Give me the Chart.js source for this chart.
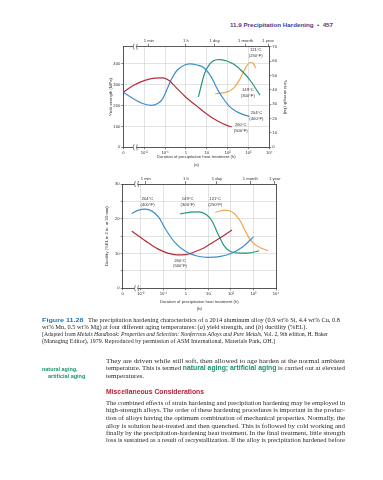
<!DOCTYPE html>
<html><head><meta charset="utf-8">
<script src="https://cdn.jsdelivr.net/npm/chart.js@4.4.1/dist/chart.umd.min.js"></script>
<style>
html,body{margin:0;padding:0;background:#fff;width:383px;height:480px;overflow:hidden;position:relative}
.ln{position:absolute;white-space:nowrap;transform-origin:0 50%;line-height:8px;height:8px}
.serif{font-family:"Liberation Serif","Times New Roman",serif;color:#231f20}
.sans{font-family:"Liberation Sans",Arial,sans-serif}
.grn{color:#17946c;font-family:"Liberation Sans",Arial,sans-serif;font-weight:bold}
canvas{position:absolute;left:0}
</style></head><body>

<div class="ln sans" data-w="103" style="left:230px;top:21px;font-size:6px;font-weight:bold;color:#4b3a8c">11.9 Precipitation Hardening&nbsp;&nbsp;•&nbsp;&nbsp;457</div>

<canvas id="ca" width="383" height="142" style="top:30px"></canvas>
<canvas id="cb" width="383" height="145" style="top:172px"></canvas>

<div class="ln sans" data-w="41.6" style="left:41.7px;top:316px;font-size:6.2px;font-weight:bold;color:#1b75bb">Figure 11.28</div>
<div class="ln serif" data-w="252" style="left:88px;top:316px;font-size:6px">The precipitation hardening characteristics of a 2014 aluminum alloy (0.9 wt% Si, 4.4 wt% Cu, 0.8</div>
<div class="ln serif" data-w="265" style="left:41.7px;top:323.3px;font-size:6px">wt% Mn, 0.5 wt% Mg) at four different aging temperatures: (<i>a</i>) yield strength, and (<i>b</i>) ductility (%EL).</div>
<div class="ln serif" data-w="286" style="left:41.7px;top:330px;font-size:5.6px">[Adapted from <i>Metals Handbook: Properties and Selection: Nonferrous Alloys and Pure Metals</i>, Vol. 2, 9th edition, H. Baker</div>
<div class="ln serif" data-w="233" style="left:41.7px;top:337px;font-size:5.6px">(Managing Editor), 1979. Reproduced by permission of ASM International, Materials Park, OH.]</div>

<div class="ln grn" data-w="35.6" style="left:41.7px;top:364.7px;font-size:5.6px">natural aging,</div>
<div class="ln grn" data-w="37.3" style="left:47.7px;top:372px;font-size:5.6px">artificial aging</div>

<div class="ln serif" data-w="239" style="left:106px;top:356.7px;font-size:6.8px">They are driven while still soft, then allowed to age harden at the normal ambient</div>
<div class="ln serif" data-w="239" style="left:106px;top:364.3px;font-size:6.8px">temperature. This is termed <span class="grn">natural aging; artificial aging</span> is carried out at elevated</div>
<div class="ln serif" data-w="38" style="left:106px;top:372px;font-size:6.8px">temperatures.</div>

<div class="ln sans" data-w="98" style="left:106px;top:388.3px;font-size:6.8px;font-weight:bold;color:#b5223a">Miscellaneous Considerations</div>

<div class="ln serif" data-w="239" style="left:106px;top:398.7px;font-size:6.8px">The combined effects of strain hardening and precipitation hardening may be employed in</div>
<div class="ln serif" data-w="239" style="left:106px;top:406.3px;font-size:6.8px">high-strength alloys. The order of these hardening procedures is important in the produc-</div>
<div class="ln serif" data-w="239" style="left:106px;top:414px;font-size:6.8px">tion of alloys having the optimum combination of mechanical properties. Normally, the</div>
<div class="ln serif" data-w="239" style="left:106px;top:421.7px;font-size:6.8px">alloy is solution heat-treated and then quenched. This is followed by cold working and</div>
<div class="ln serif" data-w="239" style="left:106px;top:429px;font-size:6.8px">finally by the precipitation-hardening heat treatment. In the final treatment, little strength</div>
<div class="ln serif" data-w="239" style="left:106px;top:436.3px;font-size:6.8px">loss is sustained as a result of recrystallization. If the alloy is precipitation hardened before</div>

<script>
// ---------- tick labels ----------
const decadeLabels = ['0', '10\u207B\u00B2', '10\u207B\u00B9', '1', '10', '10\u00B2', '10\u00B3', '10\u2074'];
const decadeHoursA = [0.001, 0.01, 0.1, 1, 10, 100, 1000, 10000];
const decadeHoursB = [0.00158, 0.01, 0.1, 1, 10, 100, 1000, 10000];
const timeTickHours = [1/60, 1, 24, 730, 8760];
const timeTickLabels = ['1 min', '1 h', '1 day', '1 month', '1 year'];
const mpaTicks = [0, 100, 200, 300, 400];
const ksiTicks = [0, 10, 20, 30, 40, 50, 60, 70];
const elTicks = [0, 5, 10, 15, 20, 25, 30];
const elLabelled = [0, 10, 20, 30];

// ---------- (a) yield strength, MPa ----------
const aRedHours   = [0.001, 0.00316, 0.01, 0.0316, 0.0794, 0.158, 0.316, 1, 3.16, 10, 31.6, 100, 158];
const aRedMPa     = [264, 298, 320, 332, 333, 320, 290, 240, 200, 160, 127, 104, 98];
const aBlueHours  = [0.001, 0.00316, 0.01, 0.0224, 0.0447, 0.0794, 0.126, 0.2, 0.398, 1, 1.58, 3.16, 7.08, 15.8, 35.5, 63.1, 126, 251, 562, 1122];
const aBlueMPa    = [264, 232, 208, 201, 210, 235, 280, 325, 372, 397, 400, 396, 383, 340, 272, 233, 195, 173, 157, 148];
const aGreenHours = [3.98, 7.94, 14.1, 28.2, 44.7, 100, 200, 562, 1413, 3548];
const aGreenMPa   = [242, 355, 400, 420, 421, 413, 398, 360, 312, 250];
const aOrangeHours= [25.1, 50.1, 100, 200, 355, 562, 891, 1259, 1778, 2239];
const aOrangeMPa  = [257, 260, 266, 285, 320, 360, 395, 408, 400, 380];

// ---------- (b) ductility, %EL ----------
const bRedHours   = [0.00398, 0.01, 0.0251, 0.0631, 0.158, 0.398, 1, 2.51, 6.31, 15.8, 39.8, 112];
const bRedEL      = [16.5, 14.6, 12.8, 11.2, 10.1, 9.6, 9.7, 10.5, 11.6, 13.2, 14.8, 16.8];
const bBlueHours  = [0.00398, 0.00794, 0.0158, 0.0316, 0.0631, 0.126, 0.316, 1, 3.16, 10, 31.6, 100, 316, 1000];
const bBlueEL     = [21.5, 22.5, 22.8, 22.2, 20.4, 17, 13.3, 10.6, 9.3, 8.9, 9.1, 10, 11.8, 14.8];
const bGreenHours = [0.562, 1.58, 3.98, 7.94, 14.1, 25.1, 50.1, 100, 251, 562, 1778];
const bGreenEL    = [21.4, 21.9, 22.0, 21.2, 19.5, 16, 12.2, 10.5, 10.1, 10.1, 10.8];
const bOrangeHours= [20, 56.2, 126, 251, 398, 708, 1585, 4467];
const bOrangeEL   = [21.8, 22.5, 21.8, 19.5, 17, 14, 12, 10.8];

// ---------- curve labels ----------
const aLabelTexts  = [['121\u00B0C','(250\u00B0F)'], ['149\u00B0C','(300\u00B0F)'], ['204\u00B0C','(400\u00B0F)'], ['260\u00B0C','(500\u00B0F)']];
const aLabelHours  = [2239, 933, 2399, 427];
const aLabelMPa    = [454, 260, 150, 93];
const bLabelTexts  = [['204\u00B0C','(400\u00B0F)'], ['149\u00B0C','(300\u00B0F)'], ['121\u00B0C','(250\u00B0F)'], ['260\u00B0C','(500\u00B0F)']];
const bLabelHours  = [0.02, 1.2, 20, 0.55];
const bLabelEL     = [24.8, 24.8, 24.8, 7.2];

const RED = '#b3303c', BLUE = '#3b8fcc', GREEN = '#1f987a', ORANGE = '#f2a649';
const TXT = '#333', AX = '#333', GRID = '#d0d0d0';
const FAM = 'Liberation Sans';
const tickFont = {family: FAM, size: 4.2};
const titleFont = {family: FAM, size: 4.2, lineHeight: 1.8};

function pts(xs, ys) { return xs.map((x, i) => ({x: x, y: ys[i]})); }
function fixTicks(values) { return s => { s.ticks = values.map(v => ({value: v})); }; }

const curveLabels = {
  id: 'curveLabels',
  afterDatasetsDraw(chart, args, o) {
    const ctx = chart.ctx, xs = chart.scales.x, ys = chart.scales.y;
    ctx.save();
    ctx.font = '4.2px "' + FAM + '"';
    ctx.fillStyle = TXT; ctx.textAlign = 'center'; ctx.textBaseline = 'middle';
    o.texts.forEach((lines, i) => {
      const x = xs.getPixelForValue(o.hours[i]), y = ys.getPixelForValue(o.values[i]);
      lines.forEach((t, j) => ctx.fillText(t, x, y + (j - (lines.length - 1) / 2) * 5.6));
    });
    ctx.restore();
  }
};
const axisBreak = {
  id: 'axisBreak',
  afterDraw(chart, args, o) {
    const ctx = chart.ctx, x = chart.scales.x.getPixelForValue(o.at);
    const {top, bottom} = chart.chartArea;
    ctx.save();
    [top, bottom].forEach(y => {
      ctx.fillStyle = '#fff'; ctx.fillRect(x - 1.6, y - 1.5, 3.2, 3);
      ctx.strokeStyle = AX; ctx.lineWidth = 0.6;
      [-1.6, 1.6].forEach(dx => {
        ctx.beginPath(); ctx.moveTo(x + dx + 0.8, y - 3);
        ctx.quadraticCurveTo(x + dx - 1.2, y, x + dx + 0.8, y + 3); ctx.stroke();
      });
    });
    ctx.restore();
  }
};

function lineDs(label, xs, ys, color) {
  return {label, data: pts(xs, ys), borderColor: color, borderWidth: 1.2, pointRadius: 0,
          cubicInterpolationMode: 'monotone', fill: false};
}
function baseX(min, ticks, title, h) {
  return {type: 'logarithmic', position: 'bottom', min: min, max: 10000,
    afterBuildTicks: fixTicks(ticks), afterFit: s => { s.height = h; },
    ticks: {font: tickFont, color: TXT, padding: 1, maxRotation: 0, autoSkip: false, callback: (v, i) => decadeLabels[i]},
    grid: {color: GRID, lineWidth: 0.6, tickLength: 2, tickColor: AX},
    border: {color: AX, width: 0.8},
    title: {display: true, text: title, font: titleFont, color: TXT, padding: 0}};
}
function topX(min) {
  return {type: 'logarithmic', position: 'top', min: min, max: 10000,
    afterBuildTicks: fixTicks(timeTickHours), afterFit: s => { s.height = 10; },
    ticks: {font: tickFont, color: TXT, padding: 0, maxRotation: 0, autoSkip: false, callback: (v, i) => timeTickLabels[i]},
    grid: {drawOnChartArea: false, tickLength: 3, tickColor: AX, lineWidth: 0.6},
    border: {color: AX, width: 0.8}};
}
const common = {responsive: false, animation: false, devicePixelRatio: 1,
  plugins: {legend: {display: false}, tooltip: {enabled: false}}};

new Chart(document.getElementById('ca'), {
  type: 'line',
  data: {datasets: [
    lineDs('260\u00B0C', aRedHours, aRedMPa, RED),
    lineDs('204\u00B0C', aBlueHours, aBlueMPa, BLUE),
    lineDs('149\u00B0C', aGreenHours, aGreenMPa, GREEN),
    lineDs('121\u00B0C', aOrangeHours, aOrangeMPa, ORANGE)]},
  options: Object.assign({}, common, {
    layout: {padding: {left: 106.7, right: 93.7, top: 6.7, bottom: 3.45}},
    plugins: {legend: {display: false}, tooltip: {enabled: false},
      curveLabels: {texts: aLabelTexts, hours: aLabelHours, values: aLabelMPa},
      axisBreak: {at: 0.0036}},
    scales: {
      x: baseX(0.001, decadeHoursA, ['Duration of precipitation heat treatment (h)', '(a)'], 21.25),
      xTop: topX(0.001),
      y: {type: 'linear', position: 'left', min: 0, max: 70 * 6.894757,
        afterBuildTicks: fixTicks(mpaTicks), afterFit: s => { s.width = 16.6; },
        ticks: {font: tickFont, color: TXT, padding: 1},
        grid: {color: GRID, lineWidth: 0.6, tickLength: 2, tickColor: AX},
        border: {color: AX, width: 0.8},
        title: {display: true, text: 'Yield strength (MPa)', font: titleFont, color: TXT, padding: 0}},
      yR: {type: 'linear', position: 'right', min: 0, max: 70,
        afterBuildTicks: fixTicks(ksiTicks), afterFit: s => { s.width = 20; },
        ticks: {font: tickFont, color: TXT, padding: 1},
        grid: {drawOnChartArea: false, tickLength: 2, tickColor: AX, lineWidth: 0.6},
        border: {color: AX, width: 0.8},
        title: {display: true, text: 'Yield strength (ksi)', font: titleFont, color: TXT, padding: 0}}
    }
  }),
  plugins: [curveLabels, axisBreak]
});

new Chart(document.getElementById('cb'), {
  type: 'line',
  data: {datasets: [
    lineDs('260\u00B0C', bRedHours, bRedEL, RED),
    lineDs('204\u00B0C', bBlueHours, bBlueEL, BLUE),
    lineDs('149\u00B0C', bGreenHours, bGreenEL, GREEN),
    lineDs('121\u00B0C', bOrangeHours, bOrangeEL, ORANGE)]},
  options: Object.assign({}, common, {
    layout: {padding: {left: 103.4, right: 107, top: 2, bottom: 4.05}},
    plugins: {legend: {display: false}, tooltip: {enabled: false},
      curveLabels: {texts: bLabelTexts, hours: bLabelHours, values: bLabelEL},
      axisBreak: {at: 0.0063}},
    scales: {
      x: baseX(0.00158, decadeHoursB, ['Duration of precipitation heat treatment (h)', '(b)'], 24.65),
      xTop: topX(0.00158),
      y: {type: 'linear', position: 'left', min: 0, max: 30,
        afterBuildTicks: fixTicks(elTicks), afterFit: s => { s.width = 19.3; },
        ticks: {font: tickFont, color: TXT, padding: 1, callback: v => elLabelled.includes(v) ? String(v) : ''},
        grid: {color: GRID, lineWidth: 0.6, tickLength: 2, tickColor: AX},
        border: {color: AX, width: 0.8},
        title: {display: true, text: 'Ductility (%EL in 2 in. or 50 mm)', font: titleFont, color: TXT, padding: 0}},
      yR: {type: 'linear', position: 'right', min: 0, max: 30,
        afterFit: s => { s.width = 0; },
        ticks: {display: false},
        grid: {drawOnChartArea: false, tickLength: 0},
        border: {color: AX, width: 0.8}}
    }
  }),
  plugins: [curveLabels, axisBreak]
});

// fit text lines to their measured widths in the page
document.querySelectorAll('.ln').forEach(el => {
  const w = el.getBoundingClientRect().width;
  const target = parseFloat(el.dataset.w);
  if (w > 0 && target) el.style.transform = 'scaleX(' + (target / w) + ')';
});
</script>
</body></html>
